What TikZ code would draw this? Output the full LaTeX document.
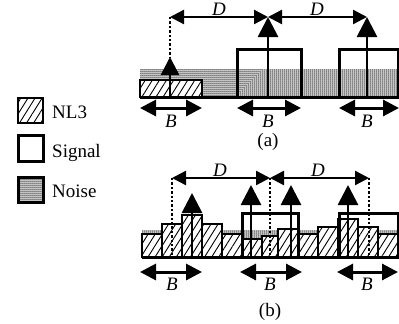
\documentclass[tikz,border=0pt]{standalone}
\usepackage{fontspec}
\setmainfont{Liberation Serif}
\usetikzlibrary{arrows.meta,patterns.meta}
\tikzset{
  nlthree/.style={draw,line width=2.8pt,preaction={fill=white},
    pattern={Lines[angle=58,distance=6pt,line width=0.9pt]}},
  sigbox/.style={draw,line width=3pt},
  noise/.style={pattern={Dots[distance=2pt,radius=0.75pt]}},
  noisebox/.style={draw,line width=3pt,noise},
  baseline/.style={line width=3pt},
  guide/.style={line width=2.4pt,dotted},
  sigarrow/.style={line width=2.8pt,-{Triangle[length=20pt,width=20pt]}},
  smallarrow/.style={line width=2.4pt,-{Triangle[length=18pt,width=18pt]}},
  darrow/.style={line width=2.4pt,{Triangle[length=14pt,width=14pt]}-{Triangle[length=14pt,width=14pt]}},
  barrow/.style={line width=3pt,{Triangle[length=16pt,width=16pt]}-{Triangle[length=16pt,width=16pt]}}
}
\begin{document}
\begin{tikzpicture}[x=1pt,y=-1pt,every node/.style={font=\fontsize{19}{21}\selectfont,inner sep=0pt}]
  \useasboundingbox (0,0) rectangle (399,324);
  % legend
  \draw[nlthree] (18,98) rectangle (43,123);
  \node[anchor=base west] (keynl) at (52,118) {NL3};
  \draw[sigbox] (18,135) rectangle (43,161);
  \node[anchor=base west] (keysig) at (52,157) {Signal};
  \draw[noisebox] (18,177) rectangle (43,202);
  \node[anchor=base west] (keynoise) at (52,197) {Noise};

  % (a)
  \fill[noise] (140,69) rectangle (399,97);
  \draw[nlthree] (140,80) rectangle (202,97);
  \draw[sigbox] (237,49) rectangle (301,97);
  \draw[sigbox] (339,49) rectangle (398,97);
  \draw[baseline] (140,97) -- (399,97);
  \coordinate (ta1) at (170,17);
  \coordinate (ta2) at (268,17);
  \coordinate (ta3) at (367,17);
  \coordinate (ha1) at (170,57);
  \draw[guide] (ta1) -- (ha1);
  \draw[smallarrow] (170,97) -- (ha1);
  \draw[sigarrow] (268,97) -- (ta2);
  \draw[sigarrow] (367,97) -- (ta3);
  \draw[darrow] (ta1) -- (ta2);
  \draw[darrow] (ta2) -- (ta3);
  \node[anchor=base] (da1) at (219,16) {\itshape D};
  \node[anchor=base] (da2) at (317,16) {\itshape D};
  \draw[barrow] (140,108) -- (202,108);
  \draw[barrow] (237,108) -- (301,108);
  \draw[barrow] (339,108) -- (399,108);
  \node[anchor=base] (ba1) at (171,127) {\itshape B};
  \node[anchor=base] (ba2) at (268,127) {\itshape B};
  \node[anchor=base] (ba3) at (367,127) {\itshape B};
  \node (capa) at (268,142) {(a)};

  % (b)
  \fill[noise] (142,230) rectangle (399,257);
  \foreach \xl/\xr/\yt in {142/162/234,162/182/224,182/202/215,202/222/224,
      222/242/234,242/262/239,262/278/236,278/298/229,298/318/234,
      318/338/227,338/358/219,358/378/227,378/398/234}
    \draw[nlthree] (\xl,\yt) rectangle (\xr,257);
  \draw[baseline] (142,257) -- (399,257);
  \draw[sigbox] (242,213) rectangle (298,257);
  \draw[sigbox] (339,213) rectangle (398,257);
  \coordinate (tb1) at (172,178);
  \coordinate (tb2) at (270,178);
  \coordinate (tb3) at (369,178);
  \draw[guide] (tb1) -- (172,257);
  \draw[guide] (tb2) -- (270,257);
  \draw[guide] (tb3) -- (369,257);
  \draw[sigarrow] (192,257) -- (192,193);
  \draw[sigarrow] (251,257) -- (251,185);
  \draw[sigarrow] (291,257) -- (291,185);
  \draw[sigarrow] (348,257) -- (348,185);
  \draw[darrow] (tb1) -- (tb2);
  \draw[darrow] (tb2) -- (tb3);
  \node[anchor=base] (db1) at (220,176) {\itshape D};
  \node[anchor=base] (db2) at (318,176) {\itshape D};
  \draw[barrow] (140,272) -- (202,272);
  \draw[barrow] (240,272) -- (302,272);
  \draw[barrow] (337,272) -- (398,272);
  \node[anchor=base] (bb1) at (172,290) {\itshape B};
  \node[anchor=base] (bb2) at (270,290) {\itshape B};
  \node[anchor=base] (bb3) at (367,290) {\itshape B};
  \node (capb) at (270,312) {(b)};
\end{tikzpicture}
\end{document}
